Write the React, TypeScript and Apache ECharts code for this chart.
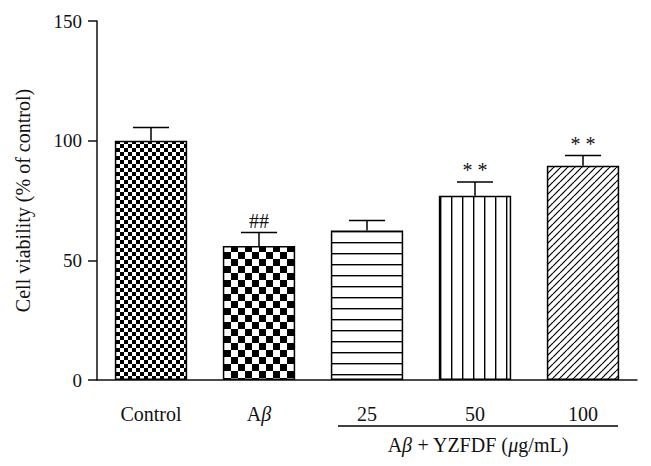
import React, { useEffect, useRef } from "react";
import * as echarts from "echarts";

const categories = ["Control", "Aβ", "25", "50", "100"];
const means = [100, 56, 62.5, 77, 89.5];
const errors = [5.5, 5.6, 4.1, 5.7, 4.3];
const marks = ["", "##", "", "**", "**"];
const yTicks = [0, 50, 100, 150];

const FONT = "'Liberation Serif', 'Times New Roman', serif";
const INK = "#111";

function makeCanvas(w: number, h: number, draw: (c: CanvasRenderingContext2D) => void) {
  const cv = document.createElement("canvas");
  cv.width = w;
  cv.height = h;
  const ctx = cv.getContext("2d")!;
  ctx.fillStyle = "#fff";
  ctx.fillRect(0, 0, w, h);
  draw(ctx);
  return cv;
}

function checker(cell: number) {
  return makeCanvas(cell * 2, cell * 2, (c) => {
    c.fillStyle = "#000";
    c.fillRect(0, 0, cell, cell);
    c.fillRect(cell, cell, cell, cell);
  });
}

function hLines(gap: number) {
  return makeCanvas(4, gap, (c) => {
    c.fillStyle = "#000";
    c.fillRect(0, 0, 4, 1.4);
  });
}

function vLines(gap: number) {
  return makeCanvas(gap, 4, (c) => {
    c.fillStyle = "#000";
    c.fillRect(0, 0, 1.4, 4);
  });
}

function diag(gap: number) {
  return makeCanvas(gap, gap, (c) => {
    c.strokeStyle = "#000";
    c.lineWidth = 1.2;
    for (let k = -1; k <= 1; k++) {
      c.beginPath();
      c.moveTo(k * gap, gap);
      c.lineTo(k * gap + gap, 0);
      c.stroke();
    }
  });
}

function pat(cv: HTMLCanvasElement) {
  return { image: cv, repeat: "repeat", imageWidth: cv.width, imageHeight: cv.height } as any;
}

export default function App() {
  const ref = useRef<HTMLDivElement>(null);
  useEffect(() => {
    if (!ref.current) return;
    document.body.style.margin = "0";
    const chart = echarts.init(ref.current, null, { renderer: "svg" });
    const patterns = [
      pat(checker(4)),
      pat(checker(7)),
      pat(hLines(11)),
      pat(vLines(11)),
      pat(diag(7)),
    ];
    chart.setOption({
      animation: false,
      backgroundColor: "#fff",
      grid: { left: 97, right: 14, top: 21, bottom: 86 },
      xAxis: {
        type: "category",
        data: categories,
        axisLine: { lineStyle: { color: INK, width: 1.5 } },
        axisTick: { alignWithLabel: true, length: 10, lineStyle: { color: INK, width: 1.5 } },
        axisLabel: {
          margin: 24,
          color: INK,
          fontFamily: FONT,
          fontSize: 20,
          formatter: (v: string) => (v === "Aβ" ? "A{i|β}" : v),
          rich: { i: { fontStyle: "italic", fontFamily: FONT, fontSize: 20, color: INK } },
        },
      },
      yAxis: {
        type: "value",
        min: 0,
        max: 150,
        interval: 50,
        name: "Cell viability (% of control)",
        nameLocation: "middle",
        nameGap: 64,
        nameTextStyle: { color: INK, fontFamily: FONT, fontSize: 20 },
        axisLine: { show: true, lineStyle: { color: INK, width: 1.5 } },
        axisTick: { show: true, length: 9, lineStyle: { color: INK, width: 1.5 } },
        splitLine: { show: false },
        axisLabel: {
          margin: 15,
          color: INK,
          fontFamily: FONT,
          fontSize: 19,
          formatter: (v: number) => (yTicks.includes(v) ? String(v) : ""),
        },
      },
      series: [
        {
          type: "bar",
          barWidth: "67%",
          data: means.map((m, i) => ({
            value: m,
            itemStyle: { color: patterns[i], borderColor: "#000", borderWidth: 1.5 },
          })),
          z: 2,
        },
        {
          type: "custom",
          z: 3,
          data: means.map((m, i) => [i, m, errors[i]]),
          renderItem: (params: any, api: any) => {
            const i = api.value(0);
            const m = api.value(1);
            const e = api.value(2);
            const base = api.coord([i, m]);
            const top = api.coord([i, m + e]);
            const half = api.size([1, 0])[0] * 0.167;
            const children: any[] = [
              {
                type: "line",
                shape: { x1: base[0], y1: base[1], x2: top[0], y2: top[1] },
                style: { stroke: "#000", lineWidth: 1.5 },
              },
              {
                type: "line",
                shape: { x1: top[0] - half, y1: top[1], x2: top[0] + half, y2: top[1] },
                style: { stroke: "#000", lineWidth: 1.5 },
              },
            ];
            const mk = marks[params.dataIndex];
            if (mk) {
              children.push({
                type: "text",
                x: top[0],
                y: top[1] - 2,
                style: {
                  text: mk === "**" ? "* *" : mk,
                  fill: INK,
                  font: `20px ${FONT}`,
                  textAlign: "center",
                  textVerticalAlign: "bottom",
                },
              });
            }
            return { type: "group", children };
          },
        },
      ],
      graphic: [
        {
          type: "line",
          shape: { x1: 338, y1: 426, x2: 618, y2: 426 },
          style: { stroke: "#000", lineWidth: 1.5 },
        },
        {
          type: "text",
          x: 478,
          y: 445,
          style: {
            text: "A{i|β} + YZFDF ({i|μ}g/mL)",
            rich: { i: { fontStyle: "italic", fontFamily: FONT, fontSize: 20, fill: INK } },
            fill: INK,
            fontFamily: FONT,
            fontSize: 20,
            align: "center",
            verticalAlign: "middle",
          },
        },
      ],
    });
    return () => chart.dispose();
  }, []);
  return <div ref={ref} style={{ width: 651, height: 466 }} />;
}
